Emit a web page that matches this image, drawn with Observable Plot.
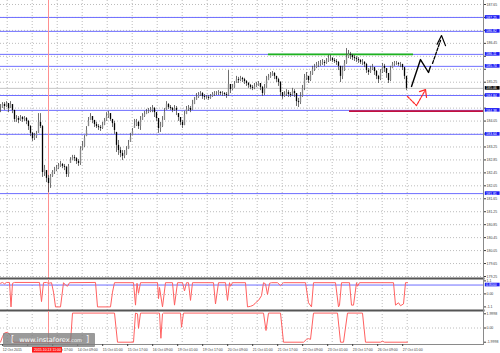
<!DOCTYPE html>
<html>
<head>
<meta charset="utf-8">
<script src="https://cdn.jsdelivr.net/npm/d3@7"></script>
<script src="https://cdn.jsdelivr.net/npm/@observablehq/plot@0.6"></script>
<style>
html,body{margin:0;padding:0;background:#fff;}
#chart{position:relative;width:500px;height:353px;overflow:hidden;background:#fff;}
#chart svg{display:block;}
#wm{position:absolute;z-index:5;left:3px;top:333px;width:92px;height:14px;background:rgba(125,125,125,0.78);color:#fff;font-family:"DejaVu Sans",sans-serif;font-size:6.6px;line-height:14px;white-space:nowrap;border-radius:1px;}
#wm .b{font-size:8px;margin:0 5px 0 8px;}
#wm small{font-size:5px;}
</style>
</head>
<body>
<div id="chart"><div id="wm"><span class="b">[</span>www.instaforex<small>.com</small><span class="b" style="margin-left:4px">]</span></div></div>
<script>
// ---------- DATA (GBP/JPY H1, 12–27 Oct 2015) ----------
// candles sampled every 2 px of the picture (1 slot ≈ 1.28 hourly bars)
const candleClose = [
184.44,184.56,184.50,184.59,184.44,184.56,184.38,184.10,184.13,184.07,
184.16,184.10,184.13,184.04,183.88,183.67,183.51,183.57,183.64,184.01,
183.88,182.46,182.58,182.28,182.12,182.34,182.46,182.52,182.58,182.65,
182.71,182.65,182.62,182.40,182.65,182.83,182.92,182.89,182.80,182.74,
183.17,183.26,183.51,183.76,184.04,184.19,184.07,183.94,183.88,183.85,
183.82,183.91,184.04,184.19,184.28,184.10,183.97,183.76,183.30,183.14,
183.05,182.96,183.02,183.14,183.30,183.54,183.73,183.91,184.01,183.88,
184.07,184.19,184.25,184.31,184.35,184.38,184.44,184.31,184.13,183.82,
183.88,184.07,184.31,184.56,184.47,184.44,184.38,184.44,184.38,184.16,
184.01,183.91,184.22,184.41,184.44,184.38,184.56,184.69,184.78,184.84,
184.90,184.81,184.78,184.78,184.75,184.81,184.87,184.90,184.90,184.93,
184.90,184.90,184.87,184.84,185.18,185.02,185.09,185.18,185.33,185.30,
185.37,185.33,185.27,185.21,185.15,185.09,185.06,185.12,185.15,185.21,
185.09,184.90,185.06,185.30,185.40,185.46,185.52,185.43,185.33,185.24,
184.93,184.81,184.87,184.93,184.87,184.84,184.96,184.90,184.65,184.62,
184.81,185.06,185.37,185.43,185.30,185.49,185.64,185.70,185.77,185.80,
185.83,185.86,185.83,185.89,185.98,185.98,185.92,185.89,185.86,185.74,
185.43,185.61,185.83,186.01,186.11,186.08,186.01,185.98,185.95,185.92,
185.86,185.86,185.80,185.61,185.55,185.64,185.70,185.58,185.43,185.33,
185.55,185.74,185.67,185.52,185.30,185.61,185.80,185.83,185.83,185.80,
185.80,185.70,185.43,185.06];
const candleHigh = [
184.56,184.62,184.62,184.65,184.59,184.65,184.56,184.38,184.22,184.19,
184.22,184.19,184.19,184.16,184.07,183.91,183.70,183.67,183.73,184.28,
184.28,183.91,182.68,182.52,182.37,182.40,182.52,182.62,182.68,182.74,
182.80,182.74,182.71,182.65,182.71,182.92,182.99,182.99,182.92,182.86,
183.26,183.42,183.60,183.88,184.16,184.28,184.19,184.07,184.01,183.94,
183.91,184.01,184.13,184.31,184.35,184.28,184.10,184.04,183.70,183.45,
183.23,183.14,183.14,183.26,183.45,183.67,183.82,184.10,184.10,184.04,
184.19,184.28,184.35,184.41,184.44,184.47,184.53,184.47,184.31,184.13,
184.01,184.19,184.44,184.65,184.59,184.53,184.47,184.53,184.50,184.28,
184.16,184.07,184.35,184.50,184.53,184.50,184.69,184.78,184.90,184.93,
184.96,184.93,184.87,184.84,184.84,184.87,184.93,184.96,184.96,184.99,
184.96,184.96,184.93,184.93,185.61,185.18,185.18,185.27,185.43,185.40,
185.43,185.40,185.37,185.30,185.24,185.18,185.15,185.21,185.24,185.27,
185.21,185.12,185.18,185.43,185.49,185.55,185.58,185.55,185.43,185.37,
185.27,184.93,184.96,185.02,184.99,184.93,185.06,185.02,184.90,184.75,
184.93,185.15,185.49,185.55,185.43,185.58,185.74,185.80,185.86,185.89,
185.92,185.95,185.92,185.98,186.08,186.08,186.01,185.98,185.95,185.89,
185.74,185.74,185.92,186.29,186.23,186.17,186.11,186.08,186.04,186.01,
185.95,185.95,185.89,185.83,185.67,185.74,185.80,185.70,185.61,185.46,
185.64,185.83,185.80,185.67,185.52,185.74,185.86,185.89,185.89,185.86,
185.86,185.80,185.70,185.43];
const candleLow = [
184.31,184.44,184.38,184.47,184.31,184.44,184.28,184.01,184.01,183.97,
184.04,184.01,184.04,183.94,183.76,183.57,183.42,183.45,183.51,183.67,
183.82,182.31,182.34,182.15,181.84,181.97,182.31,182.40,182.49,182.55,
182.62,182.58,182.52,182.31,182.31,182.74,182.83,182.80,182.71,182.65,
182.68,183.14,183.23,183.57,183.88,184.07,183.97,183.85,183.82,183.76,
183.73,183.79,183.91,184.04,184.13,184.04,183.85,183.64,183.08,182.99,
182.92,182.83,182.89,182.99,183.17,183.39,183.60,183.82,183.88,183.79,
183.76,184.07,184.16,184.25,184.28,184.31,184.31,184.16,184.04,183.67,
183.70,183.85,184.07,184.38,184.41,184.38,184.31,184.35,184.22,184.04,
183.91,183.82,183.91,184.25,184.35,184.31,184.38,184.56,184.69,184.75,
184.81,184.72,184.69,184.72,184.69,184.72,184.78,184.81,184.84,184.84,
184.84,184.81,184.81,184.75,184.81,184.90,184.99,185.06,185.21,185.21,
185.27,185.24,185.18,185.12,185.06,185.02,184.99,185.02,185.09,185.12,
184.99,184.81,184.84,185.06,185.30,185.37,185.43,185.33,185.24,185.12,
184.81,184.72,184.78,184.81,184.78,184.78,184.81,184.78,184.50,184.47,
184.56,184.78,184.99,185.30,185.21,185.27,185.46,185.58,185.67,185.70,
185.74,185.77,185.74,185.80,185.86,185.89,185.86,185.83,185.77,185.61,
185.24,185.33,185.58,185.80,185.98,185.95,185.92,185.89,185.86,185.83,
185.80,185.77,185.70,185.52,185.46,185.52,185.61,185.46,185.33,185.21,
185.30,185.52,185.55,185.37,185.21,185.27,185.67,185.74,185.77,185.74,
185.70,185.61,185.33,184.99];

// horizontal levels
const blueLevels = [187.25, 186.82, 186.11, 185.74, 184.84, 184.38, 183.64, 181.81];
const lastPrice = 185.06;
const greenLevel = 186.11, greenFrom = 134, greenTo = 206.5;
const redLevel = 184.36, redFrom = 174.5;
const markerSlot = 24, markerLabel = "2015.10.13 11:00";

// forecast arrows [slot, price]
const arrowBlack = [[205.5,185.12],[210,185.95],[214,185.55],[215,185.74]];
const arrowBlackDash = [[216,185.83],[220,186.54]];
const arrowBlackHead = [[218.3,186.42],[220.5,186.69],[222.5,186.38]];
const arrowRed = [[203.5,184.81],[208,184.53],[212.5,185.02]];
const arrowRedHead = [[209.5,184.96],[212.5,185.02],[213,184.78]];

// axes
const priceTicks = [187.65,187.25,186.85,186.45,186.05,185.65,185.25,184.85,184.45,184.05,183.65,
  183.25,182.85,182.45,182.05,181.65,181.25,180.85,180.45,180.05,179.65,179.25];
const tickHours = [0,16,32,48,64,80,96,112,128,144,160,176,192,208,224,240,256];
const tickLabels = ["12 Oct 2015","","13 Oct 17:00","14 Oct 09:00","15 Oct 01:00",
  "15 Oct 17:00","16 Oct 09:00","19 Oct 01:00","19 Oct 17:00","20 Oct 09:00","21 Oct 01:00",
  "21 Oct 17:00","22 Oct 09:00","23 Oct 01:00","23 Oct 17:00","26 Oct 09:00","27 Oct 01:00"];

// oscillator 1 [slot, value]
const osc1 = [[0,0.95],[1,1.02],[2,0.9],[3,1.02],[4.5,1.02],[5.25,-1.05],[6,0.95],[7,1.02],[19.5,1.02],
 [20.5,-0.6],[21.5,1.0],[23,1.02],[24,0.95],[25.5,1.0],[26.5,0.2],[27.5,-1.05],[30,-1.05],[31,0.3],
 [31.5,1.0],[32.5,0.8],[33.5,0.7],[34.5,1.0],[47.5,1.02],[48.5,-1.05],[55,-1.05],[56,0.2],[57,1.0],
 [66.5,1.0],[67.5,-0.9],[68.25,0.95],[69,0.1],[70,1.0],[78.5,1.0],[79,-0.35],[79.5,0.6],[81,-1.05],
 [82.5,1.0],[86,1.0],[87,-0.9],[88.5,1.0],[91,1.0],[92,0.3],[93,1.0],[94,1.0],[95,-0.5],[96,1.0],
 [106.5,1.0],[107.5,-0.8],[109,1.0],[112.5,1.0],[113.5,-0.5],[114.5,1.0],[115,0.7],[116,1.0],
 [122.5,1.0],[123.5,-1.05],[125,-1.0],[126.5,-0.9],[127.5,-0.7],[129,-0.5],[130.5,-0.1],[131.5,1.0],
 [132.5,0.9],[133.5,0.0],[134.5,0.95],[135.5,1.0],[138.5,1.0],[140,0.75],[141.5,1.0],[152.5,1.0],
 [154,-0.7],[155.5,-1.05],[156.5,1.0],[167.5,1.0],[169,-1.05],[169.5,-0.9],[170.5,1.0],[174.5,1.0],
 [175.5,-0.9],[176.5,-0.9],[178,1.0],[178.5,0.7],[179.5,1.0],[196.5,1.0],[197.5,-0.9],[199,-0.7],
 [200,-0.95],[201.5,-0.8],[202.5,1.0],[203.5,1.0]];
const osc1Level = 0.8;
const osc1Ticks = [1.1, 0, -1.1], osc1TickLabels = ["1.1","0.00","-1.1"];

// oscillator 2 [slot, value]
const osc2 = [[0,-2.0],[1,-1.2],[2,-0.7],[3.5,-0.6],[5,-1.0],[6.5,-2.0],[35,-2.0],[36,2.1],[57,2.1],
 [58.5,-2.0],[66.5,-2.0],[67.5,2.1],[68.5,2.0],[69,-0.05],[70,2.1],[79.5,2.1],[80.2,-1.45],[81,2.0],
 [81.5,2.1],[90,2.1],[90.5,0.1],[91.5,2.1],[131.5,2.1],[132.75,-0.35],[134,2.1],[140,2.1],[141.5,-2.0],
 [151.5,-2.0],[153,-1.6],[154,-1.5],[155,-1.6],[156.5,2.1],[168.5,2.1],[170,-2.0],[171.5,-2.0],
 [173.5,2.1],[181,2.1],[182.5,-2.0],[190,-2.0],[191,-1.85],[192,-2.0],[203.5,-2.0]];
const osc2Ticks = [1.9998, 0, -1.9998], osc2TickLabels = ["1.9998","0.00","-1.9998"];

// ---------- LAYOUT ----------
const X_MAX = 241.5;               // visible slots
const SLOT0 = 3.35, SLOT_PER_HOUR = 0.78125;
const tickSlots = tickHours.map(h => SLOT0 + SLOT_PER_HOUR * h);
const labelBySlot = new Map(tickSlots.map((s, i) => [s, tickLabels[i]]));
const FONT = "Liberation Sans, Arial, sans-serif";
const FS = 3.5;
const GRID = {stroke: "#bcbcbc", strokeOpacity: 1, strokeDasharray: "1,2"};
const BLUE = "#6e6eff", BOXBLUE = "#1c1cf5", OSC = "#ff6060", MARK = "#ff9090";
const base = {width: 500, marginLeft: 0, marginRight: 17, marginTop: 0,
  style: {background: "transparent", fontFamily: FONT, color: "#3c3c3c", overflow: "visible"}};

const candles = candleClose.map((c, i) => {
  const prev = i ? candleClose[i - 1] : c;
  const open = Math.max(candleLow[i], Math.min(candleHigh[i], prev));
  return {i, open, close: c, high: candleHigh[i], low: candleLow[i], up: c >= open};
});

const Y1 = [179.188, 187.7735], PX1 = 278 / (Y1[1] - Y1[0]);
const box1 = 1.8 / PX1;
// price labels hidden behind a level box (as on the terminal's scale)
const boxed = [...blueLevels, lastPrice];
const visiblePriceTicks = priceTicks.filter(t => boxed.every(b => Math.abs(t - b) * PX1 > 3.5));
const main = Plot.plot({...base, height: 279, marginBottom: 1,
  x: {domain: [0, X_MAX], axis: null},
  y: {domain: Y1},
  marks: [
    Plot.ruleY(priceTicks, GRID),
    Plot.ruleX(tickSlots, GRID),
    Plot.ruleY(blueLevels, {stroke: BLUE, strokeWidth: 1}),
    Plot.ruleY([lastPrice], {stroke: "#c6c6c6"}),
    Plot.ruleY([greenLevel], {x1: greenFrom, x2: greenTo, stroke: "#1db31d", strokeWidth: 1.6}),
    Plot.ruleY([redLevel], {x1: redFrom, x2: X_MAX, stroke: "#c4103e", strokeWidth: 1.8}),
    Plot.ruleX([markerSlot], {stroke: MARK}),
    Plot.ruleX(candles, {x: "i", y1: "low", y2: "high", stroke: "#4a4a4a", strokeWidth: 0.8}),
    Plot.ruleX(candles, {x: "i", y1: "open", y2: "close", stroke: d => d.up ? "#888" : "#000", strokeWidth: 1.3}),
    Plot.line(arrowRed, {x: d => d[0], y: d => d[1], stroke: "#ff2a2a", strokeWidth: 1.2, strokeDasharray: "2.5,1.2"}),
    Plot.line(arrowRedHead, {x: d => d[0], y: d => d[1], stroke: "#ff2a2a", strokeWidth: 1.2}),
    Plot.line(arrowBlack, {x: d => d[0], y: d => d[1], stroke: "#000", strokeWidth: 1.4}),
    Plot.line(arrowBlackDash, {x: d => d[0], y: d => d[1], stroke: "#000", strokeWidth: 1.3, strokeDasharray: "3,1.5"}),
    Plot.line(arrowBlackHead, {x: d => d[0], y: d => d[1], stroke: "#000", strokeWidth: 1.2}),
    Plot.frame({anchor: "bottom", stroke: "#555", strokeWidth: 2}),
    Plot.frame({anchor: "right", stroke: "#8a8a8a"}),
    Plot.axisY(priceTicks, {anchor: "right", tickSize: 2, tickPadding: 1, fontSize: FS,
      tickFormat: d => visiblePriceTicks.includes(d) ? d.toFixed(2) : ""}),
    Plot.rect(blueLevels, {x1: X_MAX + 0.9, x2: X_MAX + 8.3, y1: d => d - box1, y2: d => d + box1, fill: BOXBLUE}),
    Plot.text(blueLevels, {x: X_MAX + 1.3, y: d => d, text: d => d.toFixed(2), textAnchor: "start", fill: "#fff", fontSize: FS}),
    Plot.rect([lastPrice], {x1: X_MAX + 0.9, x2: X_MAX + 8.3, y1: d => d - box1, y2: d => d + box1, fill: "#000"}),
    Plot.text([lastPrice], {x: X_MAX + 1.3, y: d => d, text: d => d.toFixed(2), textAnchor: "start", fill: "#fff", fontSize: FS})
  ]
});

const Y2 = [-1.354, 1.269], PX2 = 31 / (Y2[1] - Y2[0]);
const box2 = 1.8 / PX2;
const osc1Plot = Plot.plot({...base, height: 32, marginBottom: 1,
  x: {domain: [0, X_MAX], axis: null},
  y: {domain: Y2},
  marks: [
    Plot.ruleY([0], GRID),
    Plot.ruleX(tickSlots, GRID),
    Plot.ruleY([osc1Level], {stroke: BLUE}),
    Plot.ruleX([markerSlot], {stroke: MARK}),
    Plot.line(osc1, {x: d => d[0], y: d => d[1], stroke: OSC, strokeWidth: 1}),
    Plot.frame({anchor: "bottom", stroke: "#555", strokeWidth: 2}),
    Plot.frame({anchor: "right", stroke: "#8a8a8a"}),
    Plot.axisY(osc1Ticks, {anchor: "right", tickSize: 2, tickPadding: 1, fontSize: FS, dy: -0.6,
      tickFormat: d => osc1TickLabels[osc1Ticks.indexOf(d)]}),
    Plot.rect([osc1Level], {x1: X_MAX + 0.9, x2: X_MAX + 8.3, y1: d => d - box2, y2: d => d + box2, fill: BOXBLUE}),
    Plot.text([osc1Level], {x: X_MAX + 1.3, y: d => d, text: d => d.toFixed(4), textAnchor: "start", fill: "#fff", fontSize: FS})
  ]
});

const Y3 = [-2.324, 2.324], PX3 = 33 / (Y3[1] - Y3[0]);
const below3 = px => Y3[0] - px / PX3;   // value at px below the panel's bottom edge
const osc2Plot = Plot.plot({...base, height: 42, marginBottom: 9,
  x: {domain: [0, X_MAX]},
  y: {domain: Y3},
  marks: [
    Plot.ruleY([0], GRID),
    Plot.ruleX(tickSlots, GRID),
    Plot.ruleX([markerSlot], {stroke: MARK}),
    Plot.line(osc2, {x: d => d[0], y: d => d[1], stroke: OSC, strokeWidth: 1}),
    Plot.frame({anchor: "bottom", stroke: "#8a8a8a"}),
    Plot.frame({anchor: "right", stroke: "#8a8a8a"}),
    Plot.axisY(osc2Ticks, {anchor: "right", tickSize: 2, tickPadding: 1, fontSize: FS,
      tickFormat: d => osc2TickLabels[osc2Ticks.indexOf(d)]}),
    Plot.axisX(tickSlots, {anchor: "bottom", tickSize: 2, tickPadding: 1.5, fontSize: FS,
      textAnchor: "start", dx: -4.5, tickFormat: d => labelBySlot.get(d)}),
    Plot.rect([markerLabel], {x1: markerSlot - 8, x2: markerSlot + 7, y1: below3(3), y2: below3(8.6), fill: "#ff1a1a"}),
    Plot.text([markerLabel], {x: markerSlot - 0.5, y: below3(5.8), text: d => d, fill: "#fff", fontSize: FS})
  ]
});

const root = document.getElementById("chart");
root.append(main, osc1Plot, osc2Plot);
</script>
</body>
</html>
